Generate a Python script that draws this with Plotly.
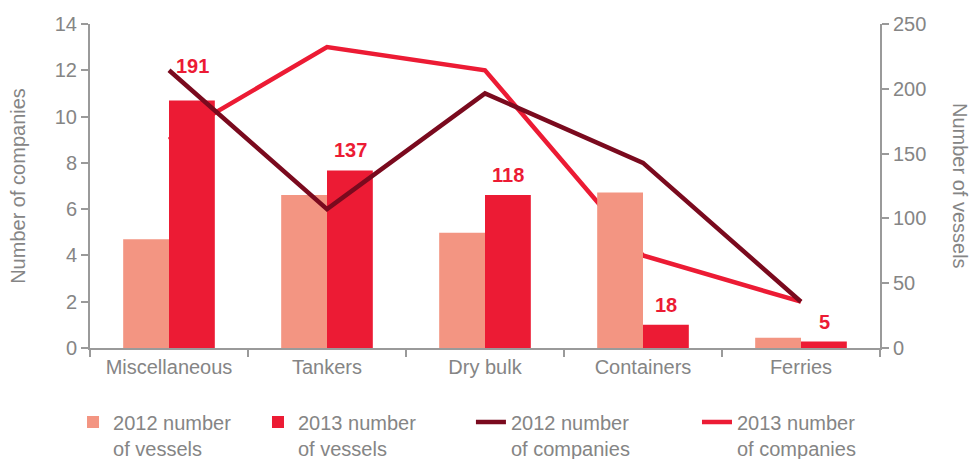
import plotly.graph_objects as go

categories = ["Miscellaneous", "Tankers", "Dry bulk", "Containers", "Ferries"]
vessels_2012 = [84, 118, 89, 120, 8]
vessels_2013 = [191, 137, 118, 18, 5]
companies_2012 = [12, 6, 11, 8, 2]
companies_2013 = [9, 13, 12, 4, 2]
left_ticks = [0, 2, 4, 6, 8, 10, 12, 14]
right_ticks = [0, 50, 100, 150, 200, 250]

C_LIGHT = "#F39582"
C_RED = "#EC1B34"
C_DARK = "#7A0A1E"
GRAY = "#858585"
AX = "#9a9a9a"
FONT = "Liberation Sans"
FS = 20

fig = go.Figure()

fig.add_trace(go.Scatter(x=categories, y=companies_2013, mode="lines",
                         line=dict(color=C_RED, width=4.5),
                         name="2013 number<br>of companies", yaxis="y", legend="legend4"))
fig.add_trace(go.Bar(x=categories, y=vessels_2012, marker=dict(color=C_LIGHT, line=dict(width=0)),
                     name="2012 number<br>of vessels", yaxis="y2", legend="legend"))
fig.add_trace(go.Bar(x=categories, y=vessels_2013, marker=dict(color=C_RED, line=dict(width=0)),
                     name="2013 number<br>of vessels", yaxis="y2", legend="legend2"))
fig.add_trace(go.Scatter(x=categories, y=companies_2012, mode="lines",
                         line=dict(color=C_DARK, width=4.5),
                         name="2012 number<br>of companies", yaxis="y3", legend="legend3"))

annotations = []
for i, (c, v) in enumerate(zip(categories, vessels_2013)):
    annotations.append(dict(x=c, y=v, xref="x", yref="y2", text="<b>%d</b>" % v,
                            showarrow=False, xshift=23, yshift=(34 if i == 0 else 20),
                            font=dict(family=FONT, size=20, color=C_RED)))
annotations.append(dict(x=1.0, y=0.5, xref="paper", yref="paper", text="Number of vessels",
                        textangle=90, showarrow=False, xshift=93,
                        font=dict(family=FONT, size=FS, color=GRAY)))

axis_common = dict(showgrid=False, zeroline=False, showline=True, linecolor=AX, linewidth=2,
                   ticks="outside", ticklen=7, tickwidth=2, tickcolor=AX,
                   tickfont=dict(family=FONT, size=FS, color=GRAY))

def leg(x):
    return dict(orientation="h", x=x, xanchor="left", xref="container",
                y=0.123, yanchor="top", yref="container", valign="top",
                font=dict(family=FONT, size=FS, color=GRAY), bgcolor="rgba(0,0,0,0)")

fig.update_layout(
    width=971, height=459,
    margin=dict(l=90, r=91, t=24, b=111),
    paper_bgcolor="white", plot_bgcolor="white",
    barmode="group", bargap=0.42, bargroupgap=0,
    showlegend=True,
    legend=leg(0.0752), legend2=leg(0.2657), legend3=leg(0.485), legend4=leg(0.7178),
    xaxis=dict(type="category", tickson="boundaries", **axis_common),
    yaxis=dict(range=[0, 14], tickvals=left_ticks, title=dict(text="Number of companies",
               font=dict(family=FONT, size=FS, color=GRAY), standoff=24), **axis_common),
    yaxis2=dict(range=[0, 250], tickvals=right_ticks, overlaying="y", side="right", **axis_common),
    yaxis3=dict(range=[0, 14], overlaying="y", visible=False, showgrid=False, zeroline=False),
    annotations=annotations,
    font=dict(family=FONT, color=GRAY),
)

fig.write_html("out.html")
